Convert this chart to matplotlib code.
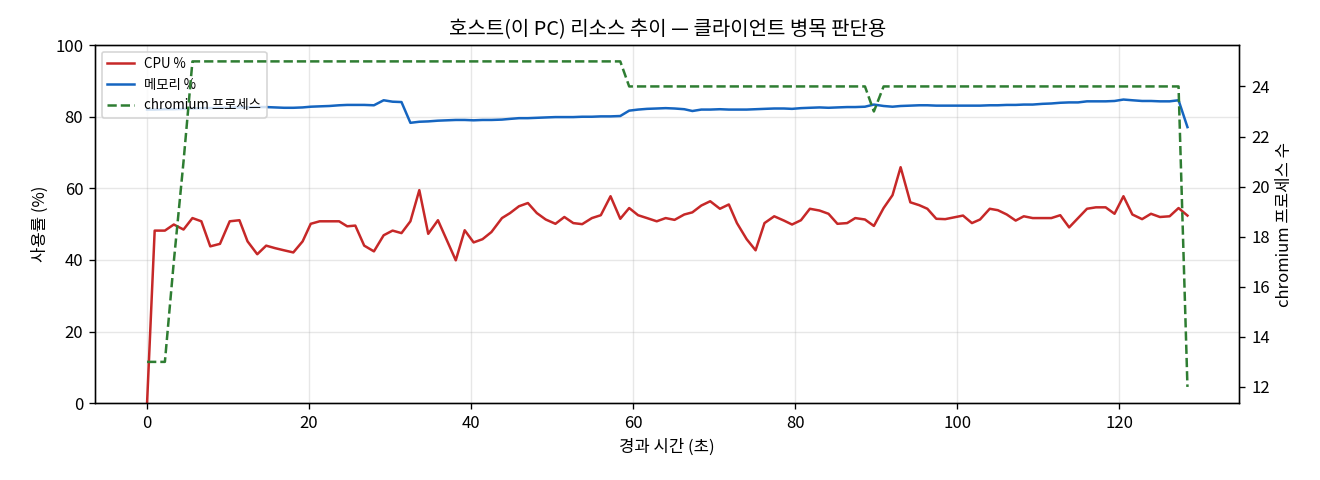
import matplotlib
matplotlib.use("Agg")
import matplotlib.pyplot as plt

plt.rcParams['font.family'] = ['Noto Sans CJK KR', 'DejaVu Sans']
plt.rcParams['axes.unicode_minus'] = False

# 경과 시간 (초)
elapsed = [
    0, 0.94, 2.2, 3.3, 4.5, 5.6, 6.7, 7.8, 9.0, 10.2,
    11.4, 12.4, 13.6, 14.7, 15.8, 16.9, 18.05, 19.2, 20.2, 21.3,
    22.5, 23.7, 24.7, 25.7, 26.8, 28.0, 29.2, 30.3, 31.4, 32.5,
    33.6, 34.7, 35.9, 37.0, 38.1, 39.2, 40.3, 41.4, 42.5, 43.8,
    44.8, 45.9, 47.0, 48.1, 49.2, 50.4, 51.5, 52.6, 53.7, 54.9,
    56.0, 57.2, 58.4, 59.5, 60.6, 61.7, 62.9, 64.0, 65.1, 66.3,
    67.3, 68.4, 69.5, 70.7, 71.8, 72.8, 74.0, 75.1, 76.2, 77.4,
    78.6, 79.6, 80.7, 81.8, 83.0, 84.1, 85.2, 86.4, 87.4, 88.6,
    89.7, 90.9, 92.0, 93.0, 94.2, 95.3, 96.3, 97.4, 98.5, 99.6,
    100.7, 101.8, 102.8, 104.0, 105.0, 106.1, 107.2, 108.2, 109.3, 110.5,
    111.6, 112.7, 113.8, 114.9, 116.0, 117.1, 118.3, 119.4, 120.5, 121.6,
    122.8, 123.9, 125.0, 126.2, 127.3, 128.4,
]

cpu_pct = [
    0, 48.2, 48.2, 49.9, 48.5, 51.7, 50.8, 43.8, 44.5, 50.8,
    51.1, 45.2, 41.6, 44.0, 43.3, 42.7, 42.1, 45.2, 50.1, 50.8,
    50.8, 50.8, 49.4, 49.6, 44.0, 42.4, 46.9, 48.2, 47.5, 50.8,
    59.5, 47.3, 51.1, 45.5, 39.9, 48.3, 44.9, 45.8, 47.8, 51.7,
    53.1, 55.0, 55.9, 53.1, 51.3, 50.1, 52.0, 50.3, 50.0, 51.7,
    52.5, 57.8, 51.5, 54.5, 52.5, 51.7, 50.8, 51.7, 51.2, 52.7,
    53.3, 55.2, 56.4, 54.3, 55.5, 50.3, 45.8, 42.7, 50.3, 52.2,
    51.0, 49.9, 51.1, 54.3, 53.8, 52.9, 50.1, 50.3, 51.7, 51.3,
    49.5, 54.5, 58.1, 65.9, 56.1, 55.3, 54.3, 51.5, 51.4, 51.9,
    52.4, 50.3, 51.3, 54.3, 53.9, 52.7, 51.0, 52.2, 51.7, 51.7,
    51.7, 52.5, 49.1, 51.7, 54.3, 54.7, 54.7, 52.9, 57.8, 52.7,
    51.4, 52.9, 52.0, 52.2, 54.5, 52.4,
]

mem_pct = [
    82.0, 82.0, 82.1, 82.1, 82.2, 82.3, 82.4, 82.4, 82.5, 82.5,
    82.6, 82.6, 82.7, 82.7, 82.6, 82.5, 82.5, 82.6, 82.8, 82.9,
    83.0, 83.2, 83.3, 83.3, 83.3, 83.2, 84.6, 84.2, 84.1, 78.3,
    78.6, 78.7, 78.9, 79.0, 79.1, 79.1, 79.0, 79.1, 79.1, 79.2,
    79.4, 79.6, 79.6, 79.7, 79.8, 79.9, 79.9, 79.9, 80.0, 80.0,
    80.1, 80.1, 80.2, 81.7, 82.0, 82.2, 82.3, 82.4, 82.3, 82.1,
    81.6, 82.0, 82.0, 82.1, 82.0, 82.0, 82.0, 82.1, 82.2, 82.3,
    82.3, 82.2, 82.4, 82.5, 82.6, 82.5, 82.6, 82.7, 82.7, 82.8,
    83.4, 83.0, 82.8, 83.0, 83.1, 83.2, 83.2, 83.1, 83.1, 83.1,
    83.1, 83.1, 83.1, 83.2, 83.2, 83.3, 83.3, 83.4, 83.4, 83.6,
    83.7, 83.9, 84.0, 84.0, 84.3, 84.3, 84.3, 84.4, 84.8, 84.6,
    84.4, 84.4, 84.3, 84.3, 84.6, 77.1,
]

chromium_procs = [
    13, 13, 13, 17, 21, 25, 25, 25, 25, 25,
    25, 25, 25, 25, 25, 25, 25, 25, 25, 25,
    25, 25, 25, 25, 25, 25, 25, 25, 25, 25,
    25, 25, 25, 25, 25, 25, 25, 25, 25, 25,
    25, 25, 25, 25, 25, 25, 25, 25, 25, 25,
    25, 25, 25, 24, 24, 24, 24, 24, 24, 24,
    24, 24, 24, 24, 24, 24, 24, 24, 24, 24,
    24, 24, 24, 24, 24, 24, 24, 24, 24, 24,
    23, 24, 24, 24, 24, 24, 24, 24, 24, 24,
    24, 24, 24, 24, 24, 24, 24, 24, 24, 24,
    24, 24, 24, 24, 24, 24, 24, 24, 24, 24,
    24, 24, 24, 24, 24, 12,
]


def plot_host_usage():
    fig, ax = plt.subplots(figsize=(11, 4), dpi=120)

    l_cpu, = ax.plot(elapsed, cpu_pct, color='#c62828', lw=1.5, label='CPU %')
    l_mem, = ax.plot(elapsed, mem_pct, color='#1565c0', lw=1.5, label='메모리 %')
    ax.set_ylim(0, 100)
    ax.set_xlabel('경과 시간 (초)')
    ax.set_ylabel('사용률 (%)')
    ax.grid(True, alpha=0.3)

    ax2 = ax.twinx()
    l_chr, = ax2.plot(elapsed, chromium_procs, color='#2e7d32', lw=1.5,
                      ls='--', label='chromium 프로세스')
    ax2.set_ylabel('chromium 프로세스 수')

    lines = [l_cpu, l_mem, l_chr]
    ax.legend(lines, [l.get_label() for l in lines], loc='upper left', fontsize=8)

    ax.set_title('호스트(이 PC) 리소스 추이 — 클라이언트 병목 판단용')

    # match the reference plot area
    fig.subplots_adjust(left=0.072, right=0.939, top=0.906, bottom=0.160)
    plt.savefig('out.png')
    plt.close(fig)


if __name__ == '__main__':
    plot_host_usage()
